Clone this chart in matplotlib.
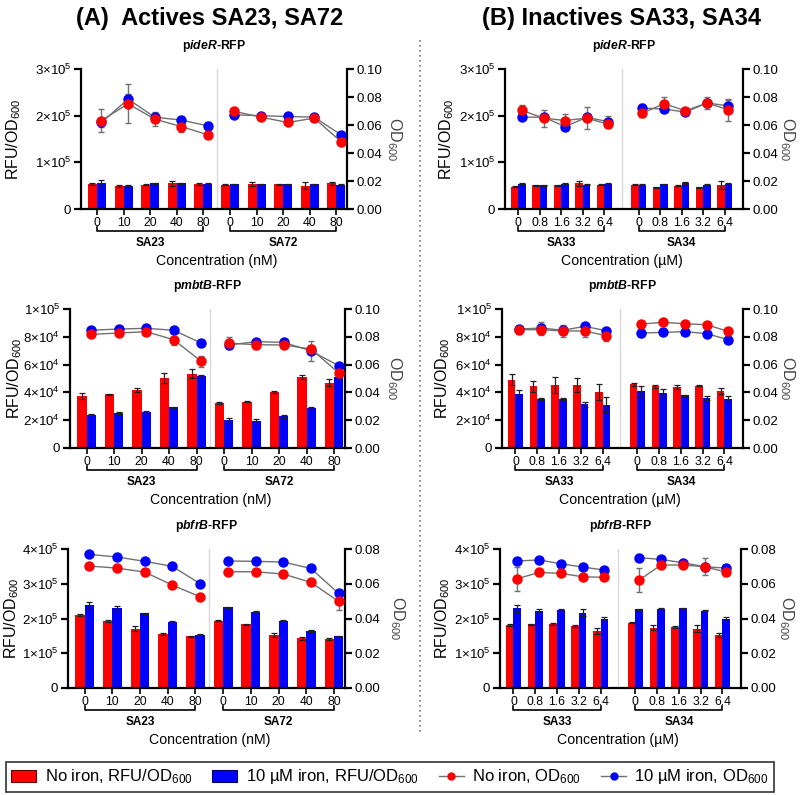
import matplotlib
matplotlib.use("Agg")
import matplotlib.pyplot as plt
import numpy as np
from matplotlib.lines import Line2D
from matplotlib.patches import Patch
from matplotlib.ticker import FixedLocator, FixedFormatter
import matplotlib.transforms as mtransforms

plt.rcParams['font.family'] = ['Liberation Sans', 'DejaVu Sans']
plt.rcParams['mathtext.fontset'] = 'custom'
plt.rcParams['mathtext.rm'] = 'Liberation Sans'
plt.rcParams['mathtext.it'] = 'Liberation Sans:italic'
plt.rcParams['mathtext.bf'] = 'Liberation Sans:bold'
plt.rcParams['mathtext.bfit'] = 'Liberation Sans:italic:bold'

# ---------------- data ----------------
conc_A = ['0', '10', '20', '40', '80']
conc_B = ['0', '0.8', '1.6', '3.2', '6.4']
compounds_A = ['SA23', 'SA72']
compounds_B = ['SA33', 'SA34']

# pideR-RFP, actives
ideR_A_bar_red = [53000, 49000, 52000, 55000, 54000, 52000, 53000, 53000, 50000, 55000]
ideR_A_bar_red_err = [2000, 1500, 1500, 6000, 2000, 1000, 4000, 1500, 7000, 3000]
ideR_A_bar_blue = [55000, 50000, 55000, 55000, 54000, 53000, 53000, 53000, 53000, 52000]
ideR_A_bar_blue_err = [7000, 1500, 1500, 1500, 1500, 1500, 1500, 1500, 1500, 1500]
ideR_A_od_red = [0.0632, 0.0752, 0.0642, 0.0589, 0.0530, 0.0697, 0.0656, 0.0618, 0.0649, 0.0482]
ideR_A_od_red_err = [0.0084, 0.014, 0.005, 0.004, 0.001, 0.001, 0.001, 0.001, 0.001, 0.001]
ideR_A_od_blue = [0.0618, 0.0785, 0.0656, 0.0635, 0.0594, 0.0673, 0.0666, 0.0661, 0.0656, 0.0530]
ideR_A_od_blue_err = [0.003, 0.004, 0.002, 0.001, 0.003, 0.001, 0.001, 0.001, 0.001, 0.001]

# pideR-RFP, inactives
ideR_B_bar_red = [48000, 51000, 51000, 55000, 52000, 52000, 47000, 50000, 46500, 52000]
ideR_B_bar_red_err = [1500, 1000, 1500, 5000, 1000, 1000, 1000, 1000, 1500, 9000]
ideR_B_bar_blue = [54000, 51000, 54000, 52000, 53000, 52000, 53000, 56000, 52000, 54000]
ideR_B_bar_blue_err = [1000, 1000, 1000, 1000, 2000, 1000, 1000, 1500, 1000, 2000]
ideR_B_od_red = [0.0704, 0.0649, 0.0632, 0.0649, 0.0606, 0.0685, 0.0752, 0.0702, 0.0757, 0.0709]
ideR_B_od_red_err = [0.004, 0.006, 0.005, 0.008, 0.003, 0.003, 0.005, 0.002, 0.004, 0.008]
ideR_B_od_blue = [0.0656, 0.0656, 0.0589, 0.0654, 0.0625, 0.0721, 0.0714, 0.0692, 0.0757, 0.0737]
ideR_B_od_blue_err = [0.001, 0.001, 0.001, 0.001, 0.004, 0.003, 0.002, 0.001, 0.001, 0.004]

# pmbtB-RFP, actives
mbtB_A_bar_red = [37600, 38600, 42000, 50400, 53500, 32400, 33300, 40300, 51100, 46800]
mbtB_A_bar_red_err = [2000, 500, 1500, 3500, 3000, 500, 500, 500, 1500, 2500]
mbtB_A_bar_blue = [24000, 25200, 25900, 29300, 52000, 19900, 19700, 22800, 28500, 50800]
mbtB_A_bar_blue_err = [500, 500, 500, 500, 800, 2000, 1500, 1000, 800, 1000]
mbtB_A_od_red = [0.0818, 0.0827, 0.0837, 0.0779, 0.0624, 0.0755, 0.0743, 0.0741, 0.0712, 0.0540]
mbtB_A_od_red_err = [0.001, 0.001, 0.002, 0.004, 0.004, 0.004, 0.003, 0.002, 0.003, 0.001]
mbtB_A_od_blue = [0.0847, 0.0856, 0.0861, 0.0847, 0.0755, 0.0741, 0.0765, 0.0760, 0.0698, 0.0592]
mbtB_A_od_blue_err = [0.001, 0.001, 0.001, 0.001, 0.001, 0.002, 0.001, 0.001, 0.007, 0.001]

# pmbtB-RFP, inactives
mbtB_B_bar_red = [49200, 44400, 45300, 45100, 40300, 45800, 44400, 43900, 44800, 41200]
mbtB_B_bar_red_err = [4000, 4000, 6000, 5000, 6000, 1000, 1000, 1500, 300, 2000]
mbtB_B_bar_blue = [39100, 35300, 35300, 31400, 31200, 40800, 39600, 37900, 36000, 35500]
mbtB_B_bar_blue_err = [2500, 500, 500, 2000, 5500, 4000, 3000, 300, 1500, 2000]
mbtB_B_od_red = [0.0851, 0.0851, 0.0842, 0.0842, 0.0808, 0.0892, 0.0904, 0.0894, 0.0887, 0.0839]
mbtB_B_od_red_err = [0.002, 0.004, 0.004, 0.004, 0.004, 0.001, 0.001, 0.001, 0.001, 0.001]
mbtB_B_od_blue = [0.0856, 0.0863, 0.0847, 0.0875, 0.0844, 0.0827, 0.0832, 0.0837, 0.0823, 0.0779]
mbtB_B_od_blue_err = [0.001, 0.004, 0.003, 0.001, 0.001, 0.003, 0.001, 0.001, 0.001, 0.001]

# pbfrB-RFP, actives
bfrB_A_bar_red = [210000, 192000, 171000, 156000, 149000, 193000, 183000, 152000, 143000, 141000]
bfrB_A_bar_red_err = [3000, 3000, 8000, 3000, 2000, 1500, 1500, 5000, 4000, 1500]
bfrB_A_bar_blue = [238000, 230000, 215000, 190000, 153000, 233000, 219000, 193000, 163000, 149000]
bfrB_A_bar_blue_err = [10000, 7000, 1500, 4000, 1500, 1500, 1500, 1500, 3000, 1500]
bfrB_A_od_red = [0.0702, 0.0690, 0.0667, 0.0592, 0.0525, 0.0669, 0.0669, 0.0656, 0.0608, 0.0498]
bfrB_A_od_red_err = [0.001, 0.001, 0.002, 0.001, 0.001, 0.001, 0.001, 0.002, 0.001, 0.005]
bfrB_A_od_blue = [0.0769, 0.0754, 0.0729, 0.0700, 0.0600, 0.0731, 0.0729, 0.0725, 0.0688, 0.0544]
bfrB_A_od_blue_err = [0.001, 0.001, 0.001, 0.001, 0.001, 0.001, 0.001, 0.001, 0.001, 0.002]

# pbfrB-RFP, inactives
bfrB_B_bar_red = [181000, 184000, 184000, 178000, 165000, 187500, 174000, 175000, 171000, 152000]
bfrB_B_bar_red_err = [4000, 1500, 3000, 2000, 9000, 1000, 7000, 2000, 10000, 6000]
bfrB_B_bar_blue = [229000, 221000, 225000, 217000, 199000, 227000, 228000, 230000, 222000, 199000]
bfrB_B_bar_blue_err = [9000, 5000, 2000, 10000, 5000, 1500, 1500, 1500, 1500, 5000]
bfrB_B_od_red = [0.0629, 0.0665, 0.0660, 0.0640, 0.0637, 0.0621, 0.0708, 0.0708, 0.0698, 0.0667]
bfrB_B_od_red_err = [0.007, 0.002, 0.001, 0.001, 0.001, 0.007, 0.001, 0.002, 0.005, 0.002]
bfrB_B_od_blue = [0.0731, 0.0737, 0.0715, 0.0696, 0.0679, 0.0750, 0.0740, 0.0721, 0.0698, 0.0690]
bfrB_B_od_blue_err = [0.001, 0.001, 0.001, 0.001, 0.001, 0.001, 0.001, 0.001, 0.001, 0.001]

RED = '#ff0000'
BLUE = '#0000ff'
GREY_LINE = '#707070'

W, H = 800, 795
fig = plt.figure(figsize=(W / 100, H / 100), dpi=100)


def rect(x0, y0, x1, y1):
    return [x0 / W, 1 - y1 / H, (x1 - x0) / W, (y1 - y0) / H]


def sci(v):
    if v == 0:
        return '0'
    e = int(np.floor(np.log10(v)))
    m = int(round(v / 10 ** e))
    return r'$%d{\times}10^{%d}$' % (m, e)


def panel(r, title_core, conc, comps, unit, pos, sep, xlim,
          br, bre, bb, bbe, odr, odre, odb, odbe,
          lmax, lticks, rmax, ylab_x, rlab_x, bw):
    ax = fig.add_axes(rect(*r))
    pos = np.array(pos)
    ax.bar(pos - bw / 2, br, width=bw, color=RED, zorder=2)
    ax.bar(pos + bw / 2, bb, width=bw, color=BLUE, zorder=2)
    ax.errorbar(pos - bw / 2, br, yerr=bre, fmt='none', ecolor='#202020',
                elinewidth=0.9, capsize=2, capthick=0.9, zorder=3)
    ax.errorbar(pos + bw / 2, bb, yerr=bbe, fmt='none', ecolor='#202020',
                elinewidth=0.9, capsize=2, capthick=0.9, zorder=3)
    ax.axvline(sep, color='#d9d9d9', lw=1.0, zorder=1)
    ax.set_xlim(*xlim)
    ax.set_ylim(0, lmax)
    ax.yaxis.set_major_locator(FixedLocator(lticks))
    ax.yaxis.set_major_formatter(FixedFormatter([sci(v) for v in lticks]))
    ax.set_xticks(pos)
    ax.set_xticklabels(conc + conc)
    for s in ['top', 'right']:
        ax.spines[s].set_visible(False)
    for s in ['left', 'bottom']:
        ax.spines[s].set_linewidth(1.6)
    ax.tick_params(axis='y', width=1.6, length=5, labelsize=9.5, pad=2)
    ax.tick_params(axis='x', width=1.2, length=4, labelsize=8.8, pad=2)
    ax.text(ylab_x, 0.5, r'RFU/OD$_{600}$', transform=ax.transAxes, rotation=90,
            ha='center', va='center', fontsize=11.5)

    ax2 = ax.twinx()
    ax2.set_ylim(0, rmax)
    ax2.set_yticks(np.arange(0, rmax + 1e-9, 0.02))
    ax2.set_yticklabels(['%.2f' % v for v in np.arange(0, rmax + 1e-9, 0.02)])
    for s in ['top', 'left', 'bottom']:
        ax2.spines[s].set_visible(False)
    ax2.spines['right'].set_linewidth(1.6)
    ax2.tick_params(axis='y', width=1.6, length=5, labelsize=9.5, pad=2)
    ax2.text(rlab_x, 0.5, r'OD$_{600}$', transform=ax2.transAxes, rotation=270,
             ha='center', va='center', fontsize=11.5, color='#444444')

    px = pos + bw / 2
    for g in range(2):
        sl = slice(5 * g, 5 * g + 5)
        for vals, errs, col in [(odb, odbe, BLUE), (odr, odre, RED)]:
            ax2.errorbar(px[sl], np.array(vals)[sl], yerr=np.array(errs)[sl],
                         color=GREY_LINE, lw=1.0, ecolor=GREY_LINE, elinewidth=1.0,
                         capsize=2, marker='o', ms=6.5, mfc=col, mec=col, zorder=4)

    # brackets
    trans = mtransforms.blended_transform_factory(ax.transData, ax.transAxes)
    for g in range(2):
        x0, x1 = pos[5 * g], pos[5 * g + 4]
        ax.plot([x0, x0, x1, x1], [-0.13, -0.158, -0.158, -0.13], color='black',
                lw=1.2, transform=trans, clip_on=False)
        ax.text((x0 + x1) / 2, -0.245, comps[g], transform=trans, ha='center',
                va='center', fontsize=8.5, fontweight='bold')
    ax.text(0.5 * (pos[0] + pos[-1]), -0.375, 'Concentration (%s)' % unit,
            transform=trans, ha='center', va='center', fontsize=10.2)
    cx = (r[0] + r[2]) / 2 / W
    fig.text(cx, 1 - (r[1] - 23) / H, r'$\mathbf{p}\mathbfit{' + title_core + '}$-RFP',
             ha='center', va='center', fontsize=8.8, fontweight='bold')
    return ax


posA = [0, 1, 2, 3, 4, 5, 6, 7, 8, 9]
posB = [0, 1, 2, 3, 4, 5.6, 6.6, 7.6, 8.6, 9.6]
xlimA = (-0.6, 9.4)
xlimB = (-0.62, 10.45)

panel((81, 69, 347, 209), 'ideR', conc_A, compounds_A, 'nM', posA, 4.5, xlimA,
      ideR_A_bar_red, ideR_A_bar_red_err, ideR_A_bar_blue, ideR_A_bar_blue_err,
      ideR_A_od_red, ideR_A_od_red_err, ideR_A_od_blue, ideR_A_od_blue_err,
      3e5, [0, 1e5, 2e5, 3e5], 0.10, -0.252, 1.177, 0.34)
panel((505, 69, 743, 209), 'ideR', conc_B, compounds_B, 'µM', posB, 4.8, xlimB,
      ideR_B_bar_red, ideR_B_bar_red_err, ideR_B_bar_blue, ideR_B_bar_blue_err,
      ideR_B_od_red, ideR_B_od_red_err, ideR_B_od_blue, ideR_B_od_blue_err,
      3e5, [0, 1e5, 2e5, 3e5], 0.10, -0.244, 1.185, 0.35)
panel((70, 309, 345, 448), 'mbtB', conc_A, compounds_A, 'nM', posA, 4.5, xlimA,
      mbtB_A_bar_red, mbtB_A_bar_red_err, mbtB_A_bar_blue, mbtB_A_bar_blue_err,
      mbtB_A_od_red, mbtB_A_od_red_err, mbtB_A_od_blue, mbtB_A_od_blue_err,
      1e5, [0, 2e4, 4e4, 6e4, 8e4, 1e5], 0.10, -0.2, 1.178, 0.34)
panel((502, 309, 743, 448), 'mbtB', conc_B, compounds_B, 'µM', posB, 4.8, xlimB,
      mbtB_B_bar_red, mbtB_B_bar_red_err, mbtB_B_bar_blue, mbtB_B_bar_blue_err,
      mbtB_B_od_red, mbtB_B_od_red_err, mbtB_B_od_blue, mbtB_B_od_blue_err,
      1e5, [0, 2e4, 4e4, 6e4, 8e4, 1e5], 0.10, -0.245, 1.185, 0.35)
panel((68, 549, 345, 688), 'bfrB', conc_A, compounds_A, 'nM', posA, 4.5, xlimA,
      bfrB_A_bar_red, bfrB_A_bar_red_err, bfrB_A_bar_blue, bfrB_A_bar_blue_err,
      bfrB_A_od_red, bfrB_A_od_red_err, bfrB_A_od_blue, bfrB_A_od_blue_err,
      4e5, [0, 1e5, 2e5, 3e5, 4e5], 0.08, -0.202, 1.188, 0.34)
panel((500, 549, 741, 688), 'bfrB', conc_B, compounds_B, 'µM', posB, 4.8, xlimB,
      bfrB_B_bar_red, bfrB_B_bar_red_err, bfrB_B_bar_blue, bfrB_B_bar_blue_err,
      bfrB_B_od_red, bfrB_B_od_red_err, bfrB_B_od_blue, bfrB_B_od_blue_err,
      4e5, [0, 1e5, 2e5, 3e5, 4e5], 0.08, -0.24, 1.19, 0.35)

# main titles
fig.text(210 / W, 1 - 18 / H, '(A)  Actives SA23, SA72', ha='center', va='center',
         fontsize=17, fontweight='bold', family=['Liberation Sans Narrow', 'Liberation Sans'])
fig.text(622 / W, 1 - 18 / H, '(B) Inactives SA33, SA34', ha='center', va='center',
         fontsize=17, fontweight='bold', family=['Liberation Sans Narrow', 'Liberation Sans'])

# dotted separator
fig.add_artist(Line2D([420 / W, 420 / W], [1 - 40 / H, 1 - 735 / H], ls=(0, (1, 2)),
                      color='#777777', lw=1.2))

# legend
handles = [
    Patch(facecolor=RED, edgecolor='#600000', lw=0.8),
    Patch(facecolor=BLUE, edgecolor='#000060', lw=0.8),
    Line2D([], [], color=GREY_LINE, lw=1, marker='o', ms=5, mfc=RED, mec=RED),
    Line2D([], [], color=GREY_LINE, lw=1, marker='o', ms=5, mfc=BLUE, mec=BLUE),
]
labels = [r'No iron, RFU/OD$_{600}$', r'10 µM iron, RFU/OD$_{600}$',
          r'No iron, OD$_{600}$', r'10 µM iron, OD$_{600}$']
leg = fig.legend(handles, labels, loc='center', bbox_to_anchor=(390 / W, 1 - 777 / H),
                 ncol=4, fontsize=12, frameon=True, fancybox=False, edgecolor='black',
                 handlelength=1.5, handletextpad=0.5, columnspacing=1.2, borderpad=0.35)
leg.get_frame().set_linewidth(1.2)

fig.savefig('out.png', dpi=100)
